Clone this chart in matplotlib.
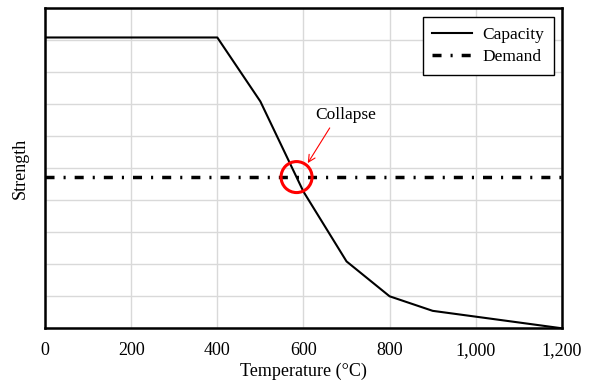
import matplotlib
matplotlib.use("Agg")
import matplotlib.pyplot as plt
from matplotlib.patches import Circle
from matplotlib.transforms import Affine2D

plt.rcParams['font.family'] = ['Liberation Serif', 'DejaVu Serif']

# Steel strength reduction with temperature
temperature = [0, 100, 200, 300, 400, 500, 600, 700, 800, 900, 1000, 1100, 1200]
capacity = [1.0, 1.0, 1.0, 1.0, 1.0, 0.78, 0.47, 0.23, 0.11, 0.06, 0.04, 0.02, 0.0]
demand_level = 0.52
collapse_temp = 584
x_ticks = [0, 200, 400, 600, 800, 1000, 1200]
x_tick_labels = ["0", "200", "400", "600", "800", "1,000", "1,200"]

fig = plt.figure(figsize=(5.89, 3.82), dpi=100)
ax = fig.add_axes([0.0764, 0.1406, 0.954 - 0.0764, 0.978 - 0.1406])

ax.plot(temperature, capacity, color="black", lw=1.5, label="Capacity", zorder=3)
ax.plot([0, 1200], [demand_level, demand_level], color="black", lw=2.5,
        dashes=(2.6, 2.6, 0.6, 2.6), label="Demand", zorder=3)

ax.set_xlim(0, 1200)
ax.set_ylim(0, 1.1)
ax.set_xticks(x_ticks)
ax.set_xticklabels(x_tick_labels, fontsize=13)
ax.set_yticks([i * 0.11 for i in range(11)])
ax.set_yticklabels([])
ax.tick_params(axis="both", length=0, pad=10)
ax.grid(True, color="#d9d9d9", lw=1.0, zorder=0)
ax.set_axisbelow(True)
for s in ax.spines.values():
    s.set_color("black")
    s.set_linewidth(1.8)

fig.text(0.5 * (0.0764 + 0.954), 1 - 371 / 382, "Temperature (°C)", fontsize=13,
         ha="center", va="center")
fig.text(20 / 589, 0.5 * (0.1406 + 0.978), "Strength", fontsize=13,
         rotation=90, ha="center", va="center")

# Collapse marker
cx, cy = ax.transData.transform((collapse_temp, demand_level))
circ = Circle((0, 0), radius=15.5, fill=False, edgecolor="red", lw=2.2, zorder=4)
circ.set_transform(Affine2D().translate(cx, cy))
ax.add_artist(circ)

ax.text(699, 0.733, "Collapse", fontsize=12.5, ha="center", va="center")
ax.annotate("", xy=(610, 0.568), xytext=(661, 0.689),
            arrowprops=dict(arrowstyle="->,head_length=0.5,head_width=0.25",
                            color="red", lw=0.8, shrinkA=0, shrinkB=0))

leg = ax.legend(loc="upper right", fontsize=12.5, frameon=True, fancybox=False,
                edgecolor="black", framealpha=1, borderpad=0.55,
                labelspacing=0.35, handlelength=2.3, handletextpad=0.6,
                borderaxespad=0, bbox_to_anchor=(0.9845, 0.973))
leg.get_frame().set_linewidth(1.0)
leg._legend_box.sep = 0

fig.savefig("out.png", dpi=100)
